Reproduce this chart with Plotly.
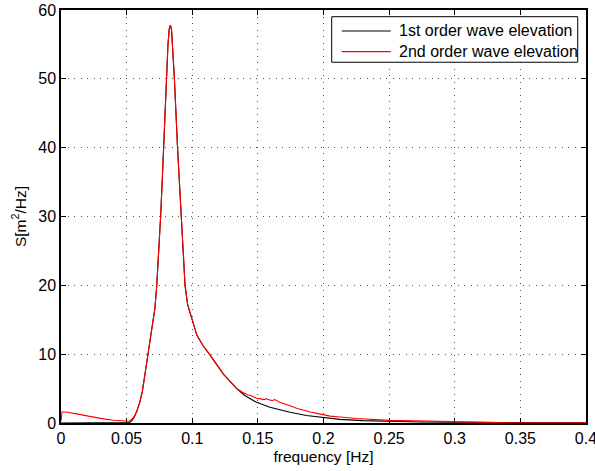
import plotly.graph_objects as go

# 1st order wave elevation spectrum
freq_1st = [0.0, 0.0500, 0.0520, 0.0540, 0.0560, 0.0580, 0.0600, 0.0620, 0.0640, 0.0660,
            0.0680, 0.0700, 0.0715, 0.0729, 0.0745, 0.0759, 0.0772, 0.0782, 0.0800, 0.0815,
            0.0825, 0.0833, 0.0842, 0.0852, 0.0864, 0.0888, 0.0904, 0.0914, 0.0930, 0.0945,
            0.0965, 0.0985, 0.1003, 0.1034, 0.1080, 0.1135, 0.1190, 0.1237, 0.1290, 0.1339,
            0.1400, 0.1490, 0.1592, 0.1745, 0.1870, 0.1998, 0.2126, 0.2300, 0.2500, 0.2750,
            0.3000, 0.3500, 0.4000]
S_1st = [0.0, 0.0, 0.05, 0.35, 0.9, 1.8, 3.0, 4.6, 7.0, 9.6,
         12.0, 14.2, 16.6, 19.8, 24.5, 30.0, 35.5, 40.0, 49.0, 55.0,
         57.3, 57.8, 57.2, 54.0, 50.0, 40.0, 34.0, 30.0, 24.0, 20.0,
         17.2, 15.8, 14.8, 12.8, 11.3, 9.9, 8.3, 7.1, 6.0, 5.0,
         4.0, 3.0, 2.3, 1.55, 1.1, 0.78, 0.52, 0.35, 0.24, 0.15,
         0.10, 0.04, 0.02]

# 2nd order wave elevation spectrum
freq_2nd = [0.0, 0.0008, 0.0040, 0.0081, 0.0140, 0.0208, 0.0270, 0.0335, 0.0400, 0.0460,
            0.0500, 0.0520, 0.0537, 0.0560, 0.0577, 0.0600, 0.0620, 0.0640, 0.0660,
            0.0680, 0.0700, 0.0715, 0.0729, 0.0745, 0.0759, 0.0772, 0.0782, 0.0800, 0.0815,
            0.0825, 0.0833, 0.0842, 0.0852, 0.0864, 0.0888, 0.0904, 0.0914, 0.0930, 0.0945,
            0.0965, 0.0985, 0.1003, 0.1034, 0.1080, 0.1135, 0.1190, 0.1237, 0.1290, 0.1339,
            0.1380, 0.1420, 0.1445, 0.1460, 0.1490, 0.1520, 0.1550, 0.1565, 0.1575, 0.1592,
            0.1610, 0.1625, 0.1640, 0.1665, 0.1700, 0.1745, 0.1800, 0.1850, 0.1900, 0.1950,
            0.1998, 0.2050, 0.2126, 0.2250, 0.2507, 0.2750, 0.2990, 0.3150, 0.3320, 0.3400,
            0.4000]
S_2nd = [0.3, 1.6, 1.6, 1.5, 1.25, 1.0, 0.75, 0.56, 0.40, 0.28,
         0.22, 0.25, 0.5, 1.0, 1.7, 3.0, 4.6, 7.0, 9.6,
         12.0, 14.2, 16.6, 19.8, 24.5, 30.0, 35.5, 40.0, 49.0, 55.0,
         57.3, 57.8, 57.2, 54.0, 50.0, 40.0, 34.0, 30.0, 24.0, 20.0,
         17.2, 15.8, 14.8, 12.8, 11.3, 9.9, 8.3, 7.1, 6.0, 5.0,
         4.5, 4.1, 4.0, 3.85, 3.6, 3.5, 3.4, 3.55, 3.4, 3.35,
         3.25, 3.4, 3.3, 3.0, 2.8, 2.5, 2.1, 1.8, 1.6, 1.4,
         1.23, 1.0, 0.88, 0.65, 0.38, 0.25, 0.17, 0.12, 0.08, 0.02,
         0.02]

series_names = ["1st order wave elevation", "2nd order wave elevation"]
series_colors = ["black", "#ff0000"]

x_ticks = [0, 0.05, 0.1, 0.15, 0.2, 0.25, 0.3, 0.35, 0.4]
x_tick_labels = ["0", "0.05", "0.1", "0.15", "0.2", "0.25", "0.3", "0.35", "0.4"]
y_ticks = [0, 10, 20, 30, 40, 50, 60]

FONT = "Liberation Sans, Arial, Helvetica, sans-serif"
FS = 16

fig = go.Figure()
fig.add_trace(go.Scatter(x=freq_1st, y=S_1st, mode="lines", name=series_names[0],
                         line=dict(color=series_colors[0], width=1.1)))
fig.add_trace(go.Scatter(x=freq_2nd, y=S_2nd, mode="lines", name=series_names[1],
                         line=dict(color=series_colors[1], width=1.1)))

axis_common = dict(
    showline=True, linecolor="black", linewidth=1.5, mirror="ticks",
    ticks="inside", ticklen=5, tickcolor="black", tickwidth=1,
    showgrid=True, gridcolor="#555555", gridwidth=1, griddash="1px,5.5px",
    zeroline=False, layer="below traces", ticklabeloverflow="allow", automargin=False,
    tickfont=dict(family=FONT, size=FS, color="black"),
)

fig.update_xaxes(range=[0, 0.40001], tickvals=x_ticks, ticktext=x_tick_labels,
                 title=dict(text="frequency [Hz]", font=dict(family=FONT, size=FS - 0.5, color="black"), standoff=5),
                 **axis_common)
fig.update_yaxes(range=[0, 60.001], tickvals=y_ticks,
                 title=dict(text="S[m<sup>2</sup>/Hz]", font=dict(family=FONT, size=FS - 0.5, color="black"), standoff=8),
                 **axis_common)

# Legend drawn as a boxed key in the top-right corner of the plot area
box_x0, box_x1, box_y0, box_y1 = 0.5156, 0.9842, 0.8735, 0.9838
row_y = [0.9492, 0.8991]
line_x0, line_x1, text_x = 0.5347, 0.6280, 0.6394
shapes = [dict(type="rect", xref="paper", yref="paper", x0=box_x0, x1=box_x1, y0=box_y0, y1=box_y1,
               line=dict(color="black", width=1), fillcolor="white", layer="above")]
annotations = []
for name, color, yy in zip(series_names, series_colors, row_y):
    shapes.append(dict(type="line", xref="paper", yref="paper", x0=line_x0, x1=line_x1, y0=yy, y1=yy,
                       line=dict(color=color, width=1.1), layer="above"))
    annotations.append(dict(text=name, xref="paper", yref="paper", x=text_x, y=yy,
                            xanchor="left", yanchor="middle", showarrow=False,
                            font=dict(family=FONT, size=FS, color="black")))

fig.update_layout(
    width=595, height=471,
    margin=dict(l=61, r=9, t=10, b=47.5),
    paper_bgcolor="white", plot_bgcolor="white",
    font=dict(family=FONT, size=FS, color="black"),
    showlegend=False,
    shapes=shapes, annotations=annotations,
)

fig.write_html("out.html")
